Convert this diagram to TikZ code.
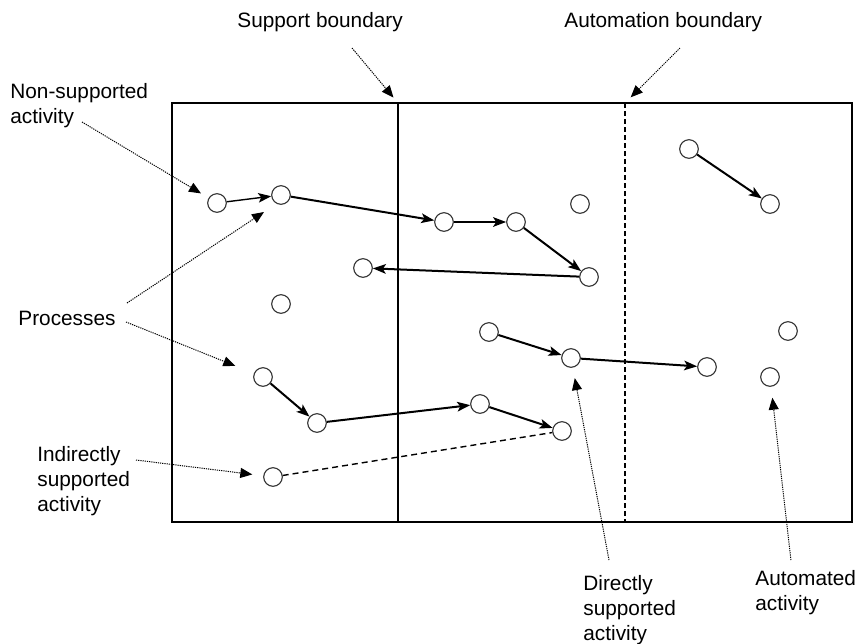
\documentclass[tikz,border=0pt]{standalone}
\usepackage{fontspec}
\setmainfont{Liberation Sans}
\usetikzlibrary{arrows.meta}

\begin{document}
\begin{tikzpicture}[x=0.5pt, y=-0.5pt, every node/.style = {font=\fontsize{10.4}{12.5}\selectfont},
		act/.style = {shape=circle, draw=black!80, line width=0.55pt, minimum size=9.3pt, inner sep=0pt},
		notetext/.style = {align=left, anchor=west, inner sep=0pt},
		flow/.style = {-{Stealth[length=6.5pt, width=4.8pt, inset=1.5pt]}, line width=1pt},
		hint/.style = {-{Triangle[length=6pt, width=5pt]}, line width=0.5pt, dash pattern=on 0.6pt off 0.5pt}]
			\useasboundingbox (0,0) rectangle (859,644);

			% frame and the two boundaries
			\draw[line width=1pt] (172,103) rectangle (852,522);
			\coordinate (suptop) at (398,103);
			\coordinate (supbot) at (398,522);
			\coordinate (auttop) at (625,103);
			\coordinate (autbot) at (625,522);
			\draw[line width=0.9pt] (suptop) -- (supbot);
			\draw[line width=0.9pt, dash pattern=on 2.5pt off 1.5pt] (auttop) -- (autbot);

			% labels
			\node[notetext] (nonsup) at (10,106) {Non-supported\\activity};
			\node[notetext] (procs) at (18,318) {Processes};
			\node[notetext] (indir) at (37,481) {Indirectly\\supported\\activity};
			\node[notetext] (supb) at (237,22) {Support boundary};
			\node[notetext] (autb) at (564,22) {Automation boundary};
			\node[notetext] (direct) at (583,610) {Directly\\supported\\activity};
			\node[notetext] (autom) at (755,593) {Automated\\activity};

			% activities
			\node[act] (u1) at (217,203) {};
			\node[act] (u2) at (281,195) {};
			\node[act] (u3) at (444,222) {};
			\node[act] (u4) at (516,222) {};
			\node[act] (u5) at (589,277) {};
			\node[act] (u6) at (363,268) {};
			\node[act] (m1) at (489,332) {};
			\node[act] (m2) at (571,358) {};
			\node[act] (m3) at (707,367) {};
			\node[act] (r1) at (689,149) {};
			\node[act] (r2) at (770,204) {};
			\node[act] (l1) at (263,377) {};
			\node[act] (l2) at (317,423) {};
			\node[act] (l3) at (480,404) {};
			\node[act] (l4) at (562,431) {};
			\node[act] (s1) at (580,204) {};
			\node[act] (s2) at (281,304) {};
			\node[act] (s3) at (788,331) {};
			\node[act] (s4) at (770,377) {};
			\node[act] (i1) at (273,477) {};

			% processes
			\draw[flow, line width=0.7pt] (u1) -- (u2);
			\draw[flow] (u2) -- (u3);
			\draw[flow] (u3) -- (u4);
			\draw[flow] (u4) -- (u5);
			\draw[flow] (u5) -- (u6);
			\draw[flow] (m1) -- (m2);
			\draw[flow] (m2) -- (m3);
			\draw[flow] (r1) -- (r2);
			\draw[flow] (l1) -- (l2);
			\draw[flow] (l2) -- (l3);
			\draw[flow] (l3) -- (l4);
			\draw[line width=0.7pt, dash pattern=on 3pt off 2pt] (i1) -- (l4);

			% pointers from the labels
			\coordinate (nonsuptail) at (82,122);
			\coordinate (procstailA) at (127,303);
			\coordinate (procstipA) at (264,212);
			\coordinate (procstailB) at (126,322);
			\coordinate (indirtail) at (136,460);
			\coordinate (supbtail) at (352,48);
			\coordinate (autbtail) at (680,48);
			\coordinate (directtail) at (609,560);
			\coordinate (automtail) at (791,560);
			\draw[hint, shorten >=4.4pt] (nonsuptail) -- (u1);
			\draw[hint] (procstailA) -- (procstipA);
			\draw[hint, shorten >=10pt] (procstailB) -- (l1);
			\draw[hint, shorten >=5.5pt] (indirtail) -- (i1);
			\draw[hint, shorten >=3.5pt] (supbtail) -- (suptop);
			\draw[hint, shorten >=4pt] (autbtail) -- (auttop);
			\draw[hint, shorten >=5.3pt] (directtail) -- (m2);
			\draw[hint, shorten >=5.5pt] (automtail) -- (s4);
		\end{tikzpicture}
\end{document}
